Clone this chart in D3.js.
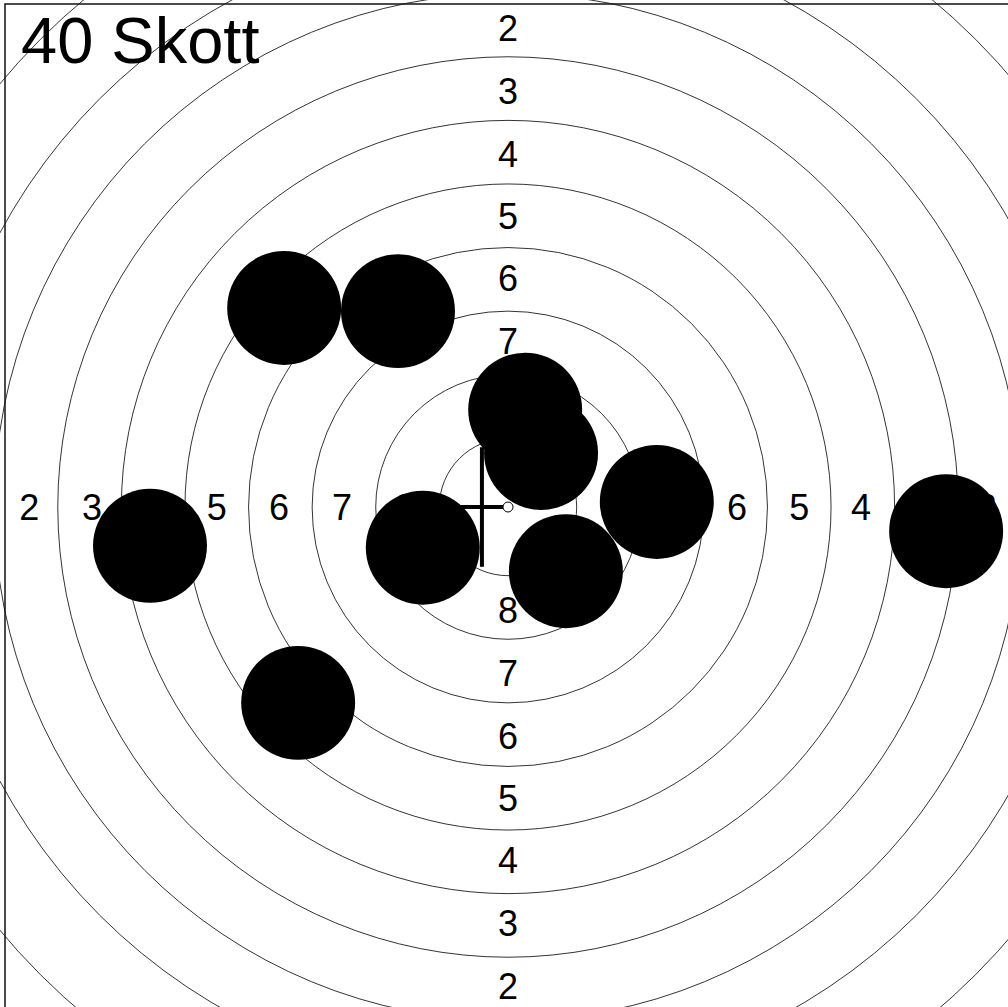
<!DOCTYPE html>
<html>
<head>
<meta charset="utf-8">
<script src="https://cdn.jsdelivr.net/npm/d3@7"></script>
<style>
  body { margin: 0; background: #fff; }
  svg { display: block; font-family: "Liberation Sans", Arial, sans-serif; }
</style>
</head>
<body>
<script>
// target in ring units (1 = one ring width), centre at 0,0
var title = '40 Skott'
var ringRadii = [1.08, 2.08, 3.08, 4.08, 5.08, 6.08, 7.08, 8.08, 9.08, 10.4]
var ringLabels = [8, 7, 6, 5, 4, 3, 2]
var labelRadii = [1.62, 2.61, 3.6, 4.58, 5.55, 6.54, 7.53]

// shot positions
var shotX = [-3.52, -1.73, 0.27, 0.52, 2.34, 6.89, -5.63, -1.34, 0.91, -3.3]
var shotY = [3.13, 3.08, 1.53, 0.85, 0.08, -0.38, -0.61, -0.64, -1.01, -3.08]
var shotR = 0.896

// mean point cross
var crossX = [-0.88, 0]     // horizontal arm
var crossY = [-0.94, 0.94]  // vertical arm
var crossAt = -0.41

var width = 1008, height = 1007
var half = 7.91

var x = d3.scaleLinear().domain([-half, half]).range([5, 1011])
var y = d3.scaleLinear().domain([-half, half]).range([1010, 4])
var k = x(1) - x(0)   // pixels per ring

var svg = d3.select('body').append('svg').attr('width', width).attr('height', height)

// rings
svg.append('g').selectAll('circle').data(ringRadii).enter().append('circle')
    .attr('cx', x(0)).attr('cy', y(0))
    .attr('r', d => d * k)
    .attr('fill', 'none').attr('stroke', '#000').attr('stroke-width', 0.8)

// ring numbers along the four axes
var dirs = [[-1, 0], [1, 0], [0, 1], [0, -1]]
var labs = []
dirs.forEach(function(dd) {
    ringLabels.forEach(function(v, i) {
        labs.push({v: v, px: dd[0] * labelRadii[i], py: dd[1] * labelRadii[i]})
    })
})
svg.append('g').selectAll('text').data(labs).enter().append('text')
    .attr('x', d => x(d.px)).attr('y', d => y(d.py))
    .attr('dy', '0.36em')
    .attr('text-anchor', 'middle')
    .attr('font-size', 36)
    .text(d => d.v)

// cross
var cross = svg.append('g').attr('stroke', '#000').attr('stroke-width', 4)
cross.append('line')
    .attr('x1', x(crossX[0])).attr('x2', x(crossX[1]))
    .attr('y1', y(0)).attr('y2', y(0))
cross.append('line')
    .attr('x1', x(crossAt)).attr('x2', x(crossAt))
    .attr('y1', y(crossY[0])).attr('y2', y(crossY[1]))
svg.append('circle').attr('cx', x(0)).attr('cy', y(0)).attr('r', 5)
    .attr('fill', '#fff').attr('stroke', '#000').attr('stroke-width', 1)

// shots
svg.append('g').selectAll('circle').data(shotX).enter().append('circle')
    .attr('cx', d => x(d))
    .attr('cy', (d, i) => y(shotY[i]))
    .attr('r', shotR * k)
    .attr('fill', '#000')

// frame
svg.append('rect')
    .attr('x', x(-half)).attr('y', y(half))
    .attr('width', x(half) - x(-half)).attr('height', y(-half) - y(half))
    .attr('fill', 'none').attr('stroke', '#111').attr('stroke-width', 1.5)

svg.append('text')
    .attr('x', 21).attr('y', 63)
    .attr('font-size', 65)
    .text(title)
</script>
</body>
</html>
